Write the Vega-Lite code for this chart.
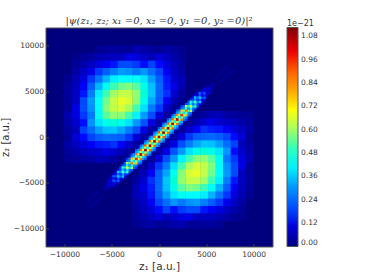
{"$schema":"https://vega.github.io/schema/vega-lite/v6.json","autosize":"none","padding":{"left":45.5,"top":27.5,"right":93.5,"bottom":27.5},"width":227,"height":219,"background":"white","view":{"fill":"#00007f","stroke":"#555555","strokeWidth":1},"title":{"text":"|ψ(z₁, z₂; x₁ =0, x₂ =0, y₁ =0, y₂ =0)|²","font":"DejaVu Serif","fontStyle":"italic","fontWeight":"normal","fontSize":10,"color":"#333333","anchor":"middle","dy":10},"datasets":{"lobes":[
{"x":-800,"y":800,"v":0.04},{"x":800,"y":-800,"v":0.04},
{"x":0,"y":1600,"v":0.038},{"x":-1600,"y":0,"v":0.038},{"x":1600,"y":0,"v":0.038},{"x":0,"y":-1600,"v":0.038},
{"x":800,"y":2400,"v":0.033},{"x":-2400,"y":-800,"v":0.033},{"x":2400,"y":800,"v":0.033},{"x":-800,"y":-2400,"v":0.033},
{"x":1600,"y":3200,"v":0.025},{"x":-3200,"y":-1600,"v":0.025},{"x":3200,"y":1600,"v":0.025},{"x":-1600,"y":-3200,"v":0.025},
{"x":2400,"y":4000,"v":0.018},{"x":-4000,"y":-2400,"v":0.018},{"x":4000,"y":2400,"v":0.018},{"x":-2400,"y":-4000,"v":0.018},
{"x":-800,"y":1600,"v":0.109},{"x":-1600,"y":800,"v":0.109},{"x":1600,"y":-800,"v":0.109},{"x":800,"y":-1600,"v":0.109},
{"x":0,"y":2400,"v":0.098},{"x":-2400,"y":0,"v":0.098},{"x":2400,"y":0,"v":0.098},{"x":0,"y":-2400,"v":0.098},
{"x":800,"y":3200,"v":0.08},{"x":-3200,"y":-800,"v":0.08},{"x":3200,"y":800,"v":0.08},{"x":-800,"y":-3200,"v":0.08},
{"x":1600,"y":4000,"v":0.059},{"x":-4000,"y":-1600,"v":0.059},{"x":4000,"y":1600,"v":0.059},{"x":-1600,"y":-4000,"v":0.059},
{"x":2400,"y":4800,"v":0.039},{"x":-4800,"y":-2400,"v":0.039},{"x":4800,"y":2400,"v":0.039},{"x":-2400,"y":-4800,"v":0.039},
{"x":-1600,"y":1600,"v":0.21},{"x":1600,"y":-1600,"v":0.21},
{"x":-800,"y":2400,"v":0.2},{"x":-2400,"y":800,"v":0.2},{"x":2400,"y":-800,"v":0.2},{"x":800,"y":-2400,"v":0.2},
{"x":0,"y":3200,"v":0.171},{"x":-3200,"y":0,"v":0.171},{"x":3200,"y":0,"v":0.171},{"x":0,"y":-3200,"v":0.171},
{"x":800,"y":4000,"v":0.132},{"x":-4000,"y":-800,"v":0.132},{"x":4000,"y":800,"v":0.132},{"x":-800,"y":-4000,"v":0.132},
{"x":1600,"y":4800,"v":0.092},{"x":-4800,"y":-1600,"v":0.092},{"x":4800,"y":1600,"v":0.092},{"x":-1600,"y":-4800,"v":0.092},
{"x":2400,"y":5600,"v":0.058},{"x":-5600,"y":-2400,"v":0.058},{"x":5600,"y":2400,"v":0.058},{"x":-2400,"y":-5600,"v":0.058},
{"x":-1600,"y":2400,"v":0.306},{"x":-2400,"y":1600,"v":0.306},{"x":2400,"y":-1600,"v":0.306},{"x":1600,"y":-2400,"v":0.306},
{"x":-800,"y":3200,"v":0.276},{"x":-3200,"y":800,"v":0.276},{"x":3200,"y":-800,"v":0.276},{"x":800,"y":-3200,"v":0.276},
{"x":0,"y":4000,"v":0.225},{"x":-4000,"y":0,"v":0.225},{"x":4000,"y":0,"v":0.225},{"x":0,"y":-4000,"v":0.225},
{"x":800,"y":4800,"v":0.166},{"x":-4800,"y":-800,"v":0.166},{"x":4800,"y":800,"v":0.166},{"x":-800,"y":-4800,"v":0.166},
{"x":1600,"y":5600,"v":0.11},{"x":-5600,"y":-1600,"v":0.11},{"x":5600,"y":1600,"v":0.11},{"x":-1600,"y":-5600,"v":0.11},
{"x":2400,"y":6400,"v":0.066},{"x":-6400,"y":-2400,"v":0.066},{"x":6400,"y":2400,"v":0.066},{"x":-2400,"y":-6400,"v":0.066},
{"x":-2400,"y":2400,"v":0.41},{"x":2400,"y":-2400,"v":0.41},
{"x":-1600,"y":3200,"v":0.385},{"x":-3200,"y":1600,"v":0.385},{"x":3200,"y":-1600,"v":0.385},{"x":1600,"y":-3200,"v":0.385},
{"x":-800,"y":4000,"v":0.319},{"x":-4000,"y":800,"v":0.319},{"x":4000,"y":-800,"v":0.319},{"x":800,"y":-4000,"v":0.319},
{"x":0,"y":4800,"v":0.234},{"x":-4800,"y":0,"v":0.234},{"x":4800,"y":0,"v":0.234},{"x":0,"y":-4800,"v":0.234},
{"x":800,"y":5600,"v":0.151},{"x":-5600,"y":-800,"v":0.151},{"x":5600,"y":800,"v":0.151},{"x":-800,"y":-5600,"v":0.151},
{"x":1600,"y":6400,"v":0.086},{"x":-6400,"y":-1600,"v":0.086},{"x":6400,"y":1600,"v":0.086},{"x":-1600,"y":-6400,"v":0.086},
{"x":2400,"y":7200,"v":0.043},{"x":-7200,"y":-2400,"v":0.043},{"x":7200,"y":2400,"v":0.043},{"x":-2400,"y":-7200,"v":0.043},
{"x":-2400,"y":3200,"v":0.512},{"x":-3200,"y":2400,"v":0.512},{"x":3200,"y":-2400,"v":0.512},{"x":2400,"y":-3200,"v":0.512},
{"x":-1600,"y":4000,"v":0.452},{"x":-4000,"y":1600,"v":0.452},{"x":4000,"y":-1600,"v":0.452},{"x":1600,"y":-4000,"v":0.452},
{"x":-800,"y":4800,"v":0.352},{"x":-4800,"y":800,"v":0.352},{"x":4800,"y":-800,"v":0.352},{"x":800,"y":-4800,"v":0.352},
{"x":0,"y":5600,"v":0.242},{"x":-5600,"y":0,"v":0.242},{"x":5600,"y":0,"v":0.242},{"x":0,"y":-5600,"v":0.242},
{"x":800,"y":6400,"v":0.147},{"x":-6400,"y":-800,"v":0.147},{"x":6400,"y":800,"v":0.147},{"x":-800,"y":-6400,"v":0.147},
{"x":1600,"y":7200,"v":0.079},{"x":-7200,"y":-1600,"v":0.079},{"x":7200,"y":1600,"v":0.079},{"x":-1600,"y":-7200,"v":0.079},
{"x":2400,"y":8000,"v":0.037},{"x":-8000,"y":-2400,"v":0.037},{"x":8000,"y":2400,"v":0.037},{"x":-2400,"y":-8000,"v":0.037},
{"x":-3200,"y":3200,"v":0.61},{"x":3200,"y":-3200,"v":0.61},
{"x":-2400,"y":4000,"v":0.573},{"x":-4000,"y":2400,"v":0.573},{"x":4000,"y":-2400,"v":0.573},{"x":2400,"y":-4000,"v":0.573},
{"x":-1600,"y":4800,"v":0.475},{"x":-4800,"y":1600,"v":0.475},{"x":4800,"y":-1600,"v":0.475},{"x":1600,"y":-4800,"v":0.475},
{"x":-800,"y":5600,"v":0.348},{"x":-5600,"y":800,"v":0.348},{"x":5600,"y":-800,"v":0.348},{"x":800,"y":-5600,"v":0.348},
{"x":0,"y":6400,"v":0.224},{"x":-6400,"y":0,"v":0.224},{"x":6400,"y":0,"v":0.224},{"x":0,"y":-6400,"v":0.224},
{"x":800,"y":7200,"v":0.128},{"x":-7200,"y":-800,"v":0.128},{"x":7200,"y":800,"v":0.128},{"x":-800,"y":-7200,"v":0.128},
{"x":1600,"y":8000,"v":0.064},{"x":-8000,"y":-1600,"v":0.064},{"x":8000,"y":1600,"v":0.064},{"x":-1600,"y":-8000,"v":0.064},
{"x":2400,"y":8800,"v":0.029},{"x":-8800,"y":-2400,"v":0.029},{"x":8800,"y":2400,"v":0.029},{"x":-2400,"y":-8800,"v":0.029},
{"x":-3200,"y":4000,"v":0.659},{"x":-4000,"y":3200,"v":0.659},{"x":4000,"y":-3200,"v":0.659},{"x":3200,"y":-4000,"v":0.659},
{"x":-2400,"y":4800,"v":0.582},{"x":-4800,"y":2400,"v":0.582},{"x":4800,"y":-2400,"v":0.582},{"x":2400,"y":-4800,"v":0.582},
{"x":-1600,"y":5600,"v":0.454},{"x":-5600,"y":1600,"v":0.454},{"x":5600,"y":-1600,"v":0.454},{"x":1600,"y":-5600,"v":0.454},
{"x":-800,"y":6400,"v":0.312},{"x":-6400,"y":800,"v":0.312},{"x":6400,"y":-800,"v":0.312},{"x":800,"y":-6400,"v":0.312},
{"x":0,"y":7200,"v":0.189},{"x":-7200,"y":0,"v":0.189},{"x":7200,"y":0,"v":0.189},{"x":0,"y":-7200,"v":0.189},
{"x":800,"y":8000,"v":0.101},{"x":-8000,"y":-800,"v":0.101},{"x":8000,"y":800,"v":0.101},{"x":-800,"y":-8000,"v":0.101},
{"x":1600,"y":8800,"v":0.048},{"x":-8800,"y":-1600,"v":0.048},{"x":8800,"y":1600,"v":0.048},{"x":-1600,"y":-8800,"v":0.048},
{"x":2400,"y":9600,"v":0.02},{"x":-9600,"y":-2400,"v":0.02},{"x":9600,"y":2400,"v":0.02},{"x":-2400,"y":-9600,"v":0.02},
{"x":-4000,"y":4000,"v":0.68},{"x":4000,"y":-4000,"v":0.68},
{"x":-3200,"y":4800,"v":0.639},{"x":-4800,"y":3200,"v":0.639},{"x":4800,"y":-3200,"v":0.639},{"x":3200,"y":-4800,"v":0.639},
{"x":-2400,"y":5600,"v":0.53},{"x":-5600,"y":2400,"v":0.53},{"x":5600,"y":-2400,"v":0.53},{"x":2400,"y":-5600,"v":0.53},
{"x":-1600,"y":6400,"v":0.388},{"x":-6400,"y":1600,"v":0.388},{"x":6400,"y":-1600,"v":0.388},{"x":1600,"y":-6400,"v":0.388},
{"x":-800,"y":7200,"v":0.25},{"x":-7200,"y":800,"v":0.25},{"x":7200,"y":-800,"v":0.25},{"x":800,"y":-7200,"v":0.25},
{"x":0,"y":8000,"v":0.143},{"x":-8000,"y":0,"v":0.143},{"x":8000,"y":0,"v":0.143},{"x":0,"y":-8000,"v":0.143},
{"x":800,"y":8800,"v":0.071},{"x":-8800,"y":-800,"v":0.071},{"x":8800,"y":800,"v":0.071},{"x":-800,"y":-8800,"v":0.071},
{"x":1600,"y":9600,"v":0.032},{"x":-9600,"y":-1600,"v":0.032},{"x":9600,"y":1600,"v":0.032},{"x":-1600,"y":-9600,"v":0.032},
{"x":-4000,"y":4800,"v":0.64},{"x":-4800,"y":4000,"v":0.64},{"x":4800,"y":-4000,"v":0.64},{"x":4000,"y":-4800,"v":0.64},
{"x":-3200,"y":5600,"v":0.565},{"x":-5600,"y":3200,"v":0.565},{"x":5600,"y":-3200,"v":0.565},{"x":3200,"y":-5600,"v":0.565},
{"x":-2400,"y":6400,"v":0.44},{"x":-6400,"y":2400,"v":0.44},{"x":6400,"y":-2400,"v":0.44},{"x":2400,"y":-6400,"v":0.44},
{"x":-1600,"y":7200,"v":0.302},{"x":-7200,"y":1600,"v":0.302},{"x":7200,"y":-1600,"v":0.302},{"x":1600,"y":-7200,"v":0.302},
{"x":-800,"y":8000,"v":0.183},{"x":-8000,"y":800,"v":0.183},{"x":8000,"y":-800,"v":0.183},{"x":800,"y":-8000,"v":0.183},
{"x":0,"y":8800,"v":0.098},{"x":-8800,"y":0,"v":0.098},{"x":8800,"y":0,"v":0.098},{"x":0,"y":-8800,"v":0.098},
{"x":800,"y":9600,"v":0.046},{"x":-9600,"y":-800,"v":0.046},{"x":9600,"y":800,"v":0.046},{"x":-800,"y":-9600,"v":0.046},
{"x":-4800,"y":4800,"v":0.6},{"x":4800,"y":-4800,"v":0.6},
{"x":-4000,"y":5600,"v":0.549},{"x":-5600,"y":4000,"v":0.549},{"x":5600,"y":-4000,"v":0.549},{"x":4000,"y":-5600,"v":0.549},
{"x":-3200,"y":6400,"v":0.42},{"x":-6400,"y":3200,"v":0.42},{"x":6400,"y":-3200,"v":0.42},{"x":3200,"y":-6400,"v":0.42},
{"x":-2400,"y":7200,"v":0.269},{"x":-7200,"y":2400,"v":0.269},{"x":7200,"y":-2400,"v":0.269},{"x":2400,"y":-7200,"v":0.269},
{"x":-1600,"y":8000,"v":0.144},{"x":-8000,"y":1600,"v":0.144},{"x":8000,"y":-1600,"v":0.144},{"x":1600,"y":-8000,"v":0.144},
{"x":-800,"y":8800,"v":0.065},{"x":-8800,"y":800,"v":0.065},{"x":8800,"y":-800,"v":0.065},{"x":800,"y":-8800,"v":0.065},
{"x":0,"y":9600,"v":0.024},{"x":-9600,"y":0,"v":0.024},{"x":9600,"y":0,"v":0.024},{"x":0,"y":-9600,"v":0.024},
{"x":-4800,"y":5600,"v":0.509},{"x":-5600,"y":4800,"v":0.509},{"x":5600,"y":-4800,"v":0.509},{"x":4800,"y":-5600,"v":0.509},
{"x":-4000,"y":6400,"v":0.425},{"x":-6400,"y":4000,"v":0.425},{"x":6400,"y":-4000,"v":0.425},{"x":4000,"y":-6400,"v":0.425},
{"x":-3200,"y":7200,"v":0.298},{"x":-7200,"y":3200,"v":0.298},{"x":7200,"y":-3200,"v":0.298},{"x":3200,"y":-7200,"v":0.298},
{"x":-2400,"y":8000,"v":0.175},{"x":-8000,"y":2400,"v":0.175},{"x":8000,"y":-2400,"v":0.175},{"x":2400,"y":-8000,"v":0.175},
{"x":-1600,"y":8800,"v":0.086},{"x":-8800,"y":1600,"v":0.086},{"x":8800,"y":-1600,"v":0.086},{"x":1600,"y":-8800,"v":0.086},
{"x":-800,"y":9600,"v":0.035},{"x":-9600,"y":800,"v":0.035},{"x":9600,"y":-800,"v":0.035},{"x":800,"y":-9600,"v":0.035},
{"x":-5600,"y":5600,"v":0.44},{"x":5600,"y":-5600,"v":0.44},
{"x":-4800,"y":6400,"v":0.403},{"x":-6400,"y":4800,"v":0.403},{"x":6400,"y":-4800,"v":0.403},{"x":4800,"y":-6400,"v":0.403},
{"x":-4000,"y":7200,"v":0.308},{"x":-7200,"y":4000,"v":0.308},{"x":7200,"y":-4000,"v":0.308},{"x":4000,"y":-7200,"v":0.308},
{"x":-3200,"y":8000,"v":0.198},{"x":-8000,"y":3200,"v":0.198},{"x":8000,"y":-3200,"v":0.198},{"x":3200,"y":-8000,"v":0.198},
{"x":-2400,"y":8800,"v":0.106},{"x":-8800,"y":2400,"v":0.106},{"x":8800,"y":-2400,"v":0.106},{"x":2400,"y":-8800,"v":0.106},
{"x":-1600,"y":9600,"v":0.048},{"x":-9600,"y":1600,"v":0.048},{"x":9600,"y":-1600,"v":0.048},{"x":1600,"y":-9600,"v":0.048},
{"x":-5600,"y":6400,"v":0.333},{"x":-6400,"y":5600,"v":0.333},{"x":6400,"y":-5600,"v":0.333},{"x":5600,"y":-6400,"v":0.333},
{"x":-4800,"y":7200,"v":0.278},{"x":-7200,"y":4800,"v":0.278},{"x":7200,"y":-4800,"v":0.278},{"x":4800,"y":-7200,"v":0.278},
{"x":-4000,"y":8000,"v":0.195},{"x":-8000,"y":4000,"v":0.195},{"x":8000,"y":-4000,"v":0.195},{"x":4000,"y":-8000,"v":0.195},
{"x":-3200,"y":8800,"v":0.114},{"x":-8800,"y":3200,"v":0.114},{"x":8800,"y":-3200,"v":0.114},{"x":3200,"y":-8800,"v":0.114},
{"x":-2400,"y":9600,"v":0.056},{"x":-9600,"y":2400,"v":0.056},{"x":9600,"y":-2400,"v":0.056},{"x":2400,"y":-9600,"v":0.056},
{"x":-6400,"y":6400,"v":0.26},{"x":6400,"y":-6400,"v":0.26},
{"x":-5600,"y":7200,"v":0.225},{"x":-7200,"y":5600,"v":0.225},{"x":7200,"y":-5600,"v":0.225},{"x":5600,"y":-7200,"v":0.225},
{"x":-4800,"y":8000,"v":0.147},{"x":-8000,"y":4800,"v":0.147},{"x":8000,"y":-4800,"v":0.147},{"x":4800,"y":-8000,"v":0.147},
{"x":-4000,"y":8800,"v":0.072},{"x":-8800,"y":4000,"v":0.072},{"x":8800,"y":-4000,"v":0.072},{"x":4000,"y":-8800,"v":0.072},
{"x":-3200,"y":9600,"v":0.027},{"x":-9600,"y":3200,"v":0.027},{"x":9600,"y":-3200,"v":0.027},{"x":3200,"y":-9600,"v":0.027},
{"x":-6400,"y":7200,"v":0.174},{"x":-7200,"y":6400,"v":0.174},{"x":7200,"y":-6400,"v":0.174},{"x":6400,"y":-7200,"v":0.174},
{"x":-5600,"y":8000,"v":0.131},{"x":-8000,"y":5600,"v":0.131},{"x":8000,"y":-5600,"v":0.131},{"x":5600,"y":-8000,"v":0.131},
{"x":-4800,"y":8800,"v":0.074},{"x":-8800,"y":4800,"v":0.074},{"x":8800,"y":-4800,"v":0.074},{"x":4800,"y":-8800,"v":0.074},
{"x":-4000,"y":9600,"v":0.032},{"x":-9600,"y":4000,"v":0.032},{"x":9600,"y":-4000,"v":0.032},{"x":4000,"y":-9600,"v":0.032},
{"x":-7200,"y":7200,"v":0.12},{"x":7200,"y":-7200,"v":0.12},
{"x":-6400,"y":8000,"v":0.104},{"x":-8000,"y":6400,"v":0.104},{"x":8000,"y":-6400,"v":0.104},{"x":6400,"y":-8000,"v":0.104},
{"x":-5600,"y":8800,"v":0.068},{"x":-8800,"y":5600,"v":0.068},{"x":8800,"y":-5600,"v":0.068},{"x":5600,"y":-8800,"v":0.068},
{"x":-4800,"y":9600,"v":0.033},{"x":-9600,"y":4800,"v":0.033},{"x":9600,"y":-4800,"v":0.033},{"x":4800,"y":-9600,"v":0.033},
{"x":-7200,"y":8000,"v":0.077},{"x":-8000,"y":7200,"v":0.077},{"x":8000,"y":-7200,"v":0.077},{"x":7200,"y":-8000,"v":0.077},
{"x":-6400,"y":8800,"v":0.058},{"x":-8800,"y":6400,"v":0.058},{"x":8800,"y":-6400,"v":0.058},{"x":6400,"y":-8800,"v":0.058},
{"x":-5600,"y":9600,"v":0.033},{"x":-9600,"y":5600,"v":0.033},{"x":9600,"y":-5600,"v":0.033},{"x":5600,"y":-9600,"v":0.033},
{"x":-8000,"y":8000,"v":0.05},{"x":8000,"y":-8000,"v":0.05},
{"x":-7200,"y":8800,"v":0.041},{"x":-8800,"y":7200,"v":0.041},{"x":8800,"y":-7200,"v":0.041},{"x":7200,"y":-8800,"v":0.041},
{"x":-6400,"y":9600,"v":0.022},{"x":-9600,"y":6400,"v":0.022},{"x":9600,"y":-6400,"v":0.022},{"x":6400,"y":-9600,"v":0.022},
{"x":-8000,"y":8800,"v":0.028},{"x":-8800,"y":8000,"v":0.028},{"x":8800,"y":-8000,"v":0.028},{"x":8000,"y":-8800,"v":0.028},
{"x":-8800,"y":8800,"v":0.016},{"x":8800,"y":-8800,"v":0.016}
],"band":[
{"x":240,"y":720,"v":0.39},{"x":720,"y":240,"v":0.39},{"x":-240,"y":-720,"v":0.39},{"x":-720,"y":-240,"v":0.39},
{"x":6000,"y":6480,"v":0.03},{"x":6480,"y":6000,"v":0.03},{"x":-6000,"y":-6480,"v":0.03},{"x":-6480,"y":-6000,"v":0.03},
{"x":6240,"y":6720,"v":0.03},{"x":6720,"y":6240,"v":0.03},{"x":-6240,"y":-6720,"v":0.03},{"x":-6720,"y":-6240,"v":0.03},
{"x":6480,"y":6960,"v":0.03},{"x":6960,"y":6480,"v":0.03},{"x":-6480,"y":-6960,"v":0.03},{"x":-6960,"y":-6480,"v":0.03},
{"x":6720,"y":7200,"v":0.03},{"x":7200,"y":6720,"v":0.03},{"x":-6720,"y":-7200,"v":0.03},{"x":-7200,"y":-6720,"v":0.03},
{"x":6960,"y":7440,"v":0.03},{"x":7440,"y":6960,"v":0.03},{"x":-6960,"y":-7440,"v":0.03},{"x":-7440,"y":-6960,"v":0.03},
{"x":7200,"y":7680,"v":0.03},{"x":7680,"y":7200,"v":0.03},{"x":-7200,"y":-7680,"v":0.03},{"x":-7680,"y":-7200,"v":0.03},
{"x":-480,"y":480,"v":0.216},{"x":480,"y":-480,"v":0.216},
{"x":-240,"y":720,"v":0.09},{"x":720,"y":-240,"v":0.09},{"x":240,"y":-720,"v":0.09},{"x":-720,"y":240,"v":0.09},
{"x":0,"y":960,"v":0.216},{"x":960,"y":0,"v":0.216},{"x":0,"y":-960,"v":0.216},{"x":-960,"y":0,"v":0.216},
{"x":240,"y":1200,"v":0.09},{"x":1200,"y":240,"v":0.09},{"x":-240,"y":-1200,"v":0.09},{"x":-1200,"y":-240,"v":0.09},
{"x":480,"y":1440,"v":0.216},{"x":1440,"y":480,"v":0.216},{"x":-480,"y":-1440,"v":0.216},{"x":-1440,"y":-480,"v":0.216},
{"x":720,"y":1680,"v":0.09},{"x":1680,"y":720,"v":0.09},{"x":-720,"y":-1680,"v":0.09},{"x":-1680,"y":-720,"v":0.09},
{"x":960,"y":1920,"v":0.216},{"x":1920,"y":960,"v":0.216},{"x":-960,"y":-1920,"v":0.216},{"x":-1920,"y":-960,"v":0.216},
{"x":1200,"y":2160,"v":0.09},{"x":2160,"y":1200,"v":0.09},{"x":-1200,"y":-2160,"v":0.09},{"x":-2160,"y":-1200,"v":0.09},
{"x":1440,"y":2400,"v":0.21},{"x":2400,"y":1440,"v":0.21},{"x":-1440,"y":-2400,"v":0.21},{"x":-2400,"y":-1440,"v":0.21},
{"x":1680,"y":2640,"v":0.085},{"x":2640,"y":1680,"v":0.085},{"x":-1680,"y":-2640,"v":0.085},{"x":-2640,"y":-1680,"v":0.085},
{"x":1920,"y":2880,"v":0.194},{"x":2880,"y":1920,"v":0.194},{"x":-1920,"y":-2880,"v":0.194},{"x":-2880,"y":-1920,"v":0.194},
{"x":2160,"y":3120,"v":0.076},{"x":3120,"y":2160,"v":0.076},{"x":-2160,"y":-3120,"v":0.076},{"x":-3120,"y":-2160,"v":0.076},
{"x":2400,"y":3360,"v":0.168},{"x":3360,"y":2400,"v":0.168},{"x":-2400,"y":-3360,"v":0.168},{"x":-3360,"y":-2400,"v":0.168},
{"x":-240,"y":480,"v":0.324},{"x":480,"y":-240,"v":0.324},{"x":240,"y":-480,"v":0.324},{"x":-480,"y":240,"v":0.324},
{"x":0,"y":720,"v":0.324},{"x":720,"y":0,"v":0.324},{"x":0,"y":-720,"v":0.324},{"x":-720,"y":0,"v":0.324},
{"x":240,"y":960,"v":0.324},{"x":960,"y":240,"v":0.324},{"x":-240,"y":-960,"v":0.324},{"x":-960,"y":-240,"v":0.324},
{"x":480,"y":1200,"v":0.324},{"x":1200,"y":480,"v":0.324},{"x":-480,"y":-1200,"v":0.324},{"x":-1200,"y":-480,"v":0.324},
{"x":720,"y":1440,"v":0.324},{"x":1440,"y":720,"v":0.324},{"x":-720,"y":-1440,"v":0.324},{"x":-1440,"y":-720,"v":0.324},
{"x":960,"y":1680,"v":0.324},{"x":1680,"y":960,"v":0.324},{"x":-960,"y":-1680,"v":0.324},{"x":-1680,"y":-960,"v":0.324},
{"x":1200,"y":1920,"v":0.32},{"x":1920,"y":1200,"v":0.32},{"x":-1200,"y":-1920,"v":0.32},{"x":-1920,"y":-1200,"v":0.32},
{"x":1440,"y":2160,"v":0.316},{"x":2160,"y":1440,"v":0.316},{"x":-1440,"y":-2160,"v":0.316},{"x":-2160,"y":-1440,"v":0.316},
{"x":1680,"y":2400,"v":0.31},{"x":2400,"y":1680,"v":0.31},{"x":-1680,"y":-2400,"v":0.31},{"x":-2400,"y":-1680,"v":0.31},
{"x":1920,"y":2640,"v":0.297},{"x":2640,"y":1920,"v":0.297},{"x":-1920,"y":-2640,"v":0.297},{"x":-2640,"y":-1920,"v":0.297},
{"x":2160,"y":2880,"v":0.282},{"x":2880,"y":2160,"v":0.282},{"x":-2160,"y":-2880,"v":0.282},{"x":-2880,"y":-2160,"v":0.282},
{"x":2400,"y":3120,"v":0.262},{"x":3120,"y":2400,"v":0.262},{"x":-2400,"y":-3120,"v":0.262},{"x":-3120,"y":-2400,"v":0.262},
{"x":2640,"y":3360,"v":0.24},{"x":3360,"y":2640,"v":0.24},{"x":-2640,"y":-3360,"v":0.24},{"x":-3360,"y":-2640,"v":0.24},
{"x":2880,"y":3600,"v":0.214},{"x":3600,"y":2880,"v":0.214},{"x":-2880,"y":-3600,"v":0.214},{"x":-3600,"y":-2880,"v":0.214},
{"x":3120,"y":3840,"v":0.189},{"x":3840,"y":3120,"v":0.189},{"x":-3120,"y":-3840,"v":0.189},{"x":-3840,"y":-3120,"v":0.189},
{"x":3360,"y":4080,"v":0.165},{"x":4080,"y":3360,"v":0.165},{"x":-3360,"y":-4080,"v":0.165},{"x":-4080,"y":-3360,"v":0.165},
{"x":3600,"y":4320,"v":0.14},{"x":4320,"y":3600,"v":0.14},{"x":-3600,"y":-4320,"v":0.14},{"x":-4320,"y":-3600,"v":0.14},
{"x":3840,"y":4560,"v":0.116},{"x":4560,"y":3840,"v":0.116},{"x":-3840,"y":-4560,"v":0.116},{"x":-4560,"y":-3840,"v":0.116},
{"x":4080,"y":4800,"v":0.093},{"x":4800,"y":4080,"v":0.093},{"x":-4080,"y":-4800,"v":0.093},{"x":-4800,"y":-4080,"v":0.093},
{"x":4320,"y":5040,"v":0.072},{"x":5040,"y":4320,"v":0.072},{"x":-4320,"y":-5040,"v":0.072},{"x":-5040,"y":-4320,"v":0.072},
{"x":-240,"y":240,"v":0.39},{"x":240,"y":-240,"v":0.39},
{"x":0,"y":480,"v":0.92},{"x":480,"y":0,"v":0.92},{"x":0,"y":-480,"v":0.92},{"x":-480,"y":0,"v":0.92},
{"x":480,"y":960,"v":0.92},{"x":960,"y":480,"v":0.92},{"x":-480,"y":-960,"v":0.92},{"x":-960,"y":-480,"v":0.92},
{"x":720,"y":1200,"v":0.39},{"x":1200,"y":720,"v":0.39},{"x":-720,"y":-1200,"v":0.39},{"x":-1200,"y":-720,"v":0.39},
{"x":960,"y":1440,"v":0.92},{"x":1440,"y":960,"v":0.92},{"x":-960,"y":-1440,"v":0.92},{"x":-1440,"y":-960,"v":0.92},
{"x":1200,"y":1680,"v":0.39},{"x":1680,"y":1200,"v":0.39},{"x":-1200,"y":-1680,"v":0.39},{"x":-1680,"y":-1200,"v":0.39},
{"x":1440,"y":1920,"v":0.9},{"x":1920,"y":1440,"v":0.9},{"x":-1440,"y":-1920,"v":0.9},{"x":-1920,"y":-1440,"v":0.9},
{"x":1680,"y":2160,"v":0.378},{"x":2160,"y":1680,"v":0.378},{"x":-1680,"y":-2160,"v":0.378},{"x":-2160,"y":-1680,"v":0.378},
{"x":1920,"y":2400,"v":0.86},{"x":2400,"y":1920,"v":0.86},{"x":-1920,"y":-2400,"v":0.86},{"x":-2400,"y":-1920,"v":0.86},
{"x":2160,"y":2640,"v":0.35},{"x":2640,"y":2160,"v":0.35},{"x":-2160,"y":-2640,"v":0.35},{"x":-2640,"y":-2160,"v":0.35},
{"x":2400,"y":2880,"v":0.774},{"x":2880,"y":2400,"v":0.774},{"x":-2400,"y":-2880,"v":0.774},{"x":-2880,"y":-2400,"v":0.774},
{"x":2640,"y":3120,"v":0.3},{"x":3120,"y":2640,"v":0.3},{"x":-2640,"y":-3120,"v":0.3},{"x":-3120,"y":-2640,"v":0.3},
{"x":2880,"y":3360,"v":0.643},{"x":3360,"y":2880,"v":0.643},{"x":-2880,"y":-3360,"v":0.643},{"x":-3360,"y":-2880,"v":0.643},
{"x":3120,"y":3600,"v":0.24},{"x":3600,"y":3120,"v":0.24},{"x":-3120,"y":-3600,"v":0.24},{"x":-3600,"y":-3120,"v":0.24},
{"x":3360,"y":3840,"v":0.5},{"x":3840,"y":3360,"v":0.5},{"x":-3360,"y":-3840,"v":0.5},{"x":-3840,"y":-3360,"v":0.5},
{"x":3600,"y":4080,"v":0.184},{"x":4080,"y":3600,"v":0.184},{"x":-3600,"y":-4080,"v":0.184},{"x":-4080,"y":-3600,"v":0.184},
{"x":3840,"y":4320,"v":0.363},{"x":4320,"y":3840,"v":0.363},{"x":-3840,"y":-4320,"v":0.363},{"x":-4320,"y":-3840,"v":0.363},
{"x":4080,"y":4560,"v":0.125},{"x":4560,"y":4080,"v":0.125},{"x":-4080,"y":-4560,"v":0.125},{"x":-4560,"y":-4080,"v":0.125},
{"x":4320,"y":4800,"v":0.234},{"x":4800,"y":4320,"v":0.234},{"x":-4320,"y":-4800,"v":0.234},{"x":-4800,"y":-4320,"v":0.234},
{"x":4560,"y":5040,"v":0.074},{"x":5040,"y":4560,"v":0.074},{"x":-4560,"y":-5040,"v":0.074},{"x":-5040,"y":-4560,"v":0.074},
{"x":4800,"y":5280,"v":0.133},{"x":5280,"y":4800,"v":0.133},{"x":-4800,"y":-5280,"v":0.133},{"x":-5280,"y":-4800,"v":0.133},
{"x":5040,"y":5520,"v":0.039},{"x":5520,"y":5040,"v":0.039},{"x":-5040,"y":-5520,"v":0.039},{"x":-5520,"y":-5040,"v":0.039},
{"x":0,"y":240,"v":0.676},{"x":240,"y":0,"v":0.676},{"x":0,"y":-240,"v":0.676},{"x":-240,"y":0,"v":0.676},
{"x":240,"y":480,"v":0.676},{"x":480,"y":240,"v":0.676},{"x":-240,"y":-480,"v":0.676},{"x":-480,"y":-240,"v":0.676},
{"x":480,"y":720,"v":0.676},{"x":720,"y":480,"v":0.676},{"x":-480,"y":-720,"v":0.676},{"x":-720,"y":-480,"v":0.676},
{"x":720,"y":960,"v":0.676},{"x":960,"y":720,"v":0.676},{"x":-720,"y":-960,"v":0.676},{"x":-960,"y":-720,"v":0.676},
{"x":960,"y":1200,"v":0.676},{"x":1200,"y":960,"v":0.676},{"x":-960,"y":-1200,"v":0.676},{"x":-1200,"y":-960,"v":0.676},
{"x":1200,"y":1440,"v":0.676},{"x":1440,"y":1200,"v":0.676},{"x":-1200,"y":-1440,"v":0.676},{"x":-1440,"y":-1200,"v":0.676},
{"x":1440,"y":1680,"v":0.67},{"x":1680,"y":1440,"v":0.67},{"x":-1440,"y":-1680,"v":0.67},{"x":-1680,"y":-1440,"v":0.67},
{"x":1680,"y":1920,"v":0.66},{"x":1920,"y":1680,"v":0.66},{"x":-1680,"y":-1920,"v":0.66},{"x":-1920,"y":-1680,"v":0.66},
{"x":1920,"y":2160,"v":0.645},{"x":2160,"y":1920,"v":0.645},{"x":-1920,"y":-2160,"v":0.645},{"x":-2160,"y":-1920,"v":0.645},
{"x":2160,"y":2400,"v":0.62},{"x":2400,"y":2160,"v":0.62},{"x":-2160,"y":-2400,"v":0.62},{"x":-2400,"y":-2160,"v":0.62},
{"x":2400,"y":2640,"v":0.588},{"x":2640,"y":2400,"v":0.588},{"x":-2400,"y":-2640,"v":0.588},{"x":-2640,"y":-2400,"v":0.588},
{"x":2640,"y":2880,"v":0.548},{"x":2880,"y":2640,"v":0.548},{"x":-2640,"y":-2880,"v":0.548},{"x":-2880,"y":-2640,"v":0.548},
{"x":2880,"y":3120,"v":0.5},{"x":3120,"y":2880,"v":0.5},{"x":-2880,"y":-3120,"v":0.5},{"x":-3120,"y":-2880,"v":0.5},
{"x":3120,"y":3360,"v":0.446},{"x":3360,"y":3120,"v":0.446},{"x":-3120,"y":-3360,"v":0.446},{"x":-3360,"y":-3120,"v":0.446},
{"x":3360,"y":3600,"v":0.394},{"x":3600,"y":3360,"v":0.394},{"x":-3360,"y":-3600,"v":0.394},{"x":-3600,"y":-3360,"v":0.394},
{"x":3600,"y":3840,"v":0.344},{"x":3840,"y":3600,"v":0.344},{"x":-3600,"y":-3840,"v":0.344},{"x":-3840,"y":-3600,"v":0.344},
{"x":3840,"y":4080,"v":0.292},{"x":4080,"y":3840,"v":0.292},{"x":-3840,"y":-4080,"v":0.292},{"x":-4080,"y":-3840,"v":0.292},
{"x":4080,"y":4320,"v":0.242},{"x":4320,"y":4080,"v":0.242},{"x":-4080,"y":-4320,"v":0.242},{"x":-4320,"y":-4080,"v":0.242},
{"x":4320,"y":4560,"v":0.194},{"x":4560,"y":4320,"v":0.194},{"x":-4320,"y":-4560,"v":0.194},{"x":-4560,"y":-4320,"v":0.194},
{"x":4560,"y":4800,"v":0.15},{"x":4800,"y":4560,"v":0.15},{"x":-4560,"y":-4800,"v":0.15},{"x":-4800,"y":-4560,"v":0.15},
{"x":4800,"y":5040,"v":0.113},{"x":5040,"y":4800,"v":0.113},{"x":-4800,"y":-5040,"v":0.113},{"x":-5040,"y":-4800,"v":0.113},
{"x":5040,"y":5280,"v":0.083},{"x":5280,"y":5040,"v":0.083},{"x":-5040,"y":-5280,"v":0.083},{"x":-5280,"y":-5040,"v":0.083},
{"x":5280,"y":5520,"v":0.058},{"x":5520,"y":5280,"v":0.058},{"x":-5280,"y":-5520,"v":0.058},{"x":-5520,"y":-5280,"v":0.058},
{"x":5520,"y":5760,"v":0.038},{"x":5760,"y":5520,"v":0.038},{"x":-5520,"y":-5760,"v":0.038},{"x":-5760,"y":-5520,"v":0.038},
{"x":0,"y":0,"v":1.08},{"x":240,"y":240,"v":0.45},{"x":-240,"y":-240,"v":0.45},{"x":480,"y":480,"v":1.08},{"x":-480,"y":-480,"v":1.08},
{"x":720,"y":720,"v":0.45},{"x":-720,"y":-720,"v":0.45},{"x":960,"y":960,"v":1.08},{"x":-960,"y":-960,"v":1.08},
{"x":1200,"y":1200,"v":0.45},{"x":-1200,"y":-1200,"v":0.45},{"x":1440,"y":1440,"v":1.08},{"x":-1440,"y":-1440,"v":1.08},
{"x":1680,"y":1680,"v":0.445},{"x":-1680,"y":-1680,"v":0.445},{"x":1920,"y":1920,"v":1.05},{"x":-1920,"y":-1920,"v":1.05},
{"x":2160,"y":2160,"v":0.424},{"x":-2160,"y":-2160,"v":0.424},{"x":2400,"y":2400,"v":0.97},{"x":-2400,"y":-2400,"v":0.97},
{"x":2640,"y":2640,"v":0.382},{"x":-2640,"y":-2640,"v":0.382},{"x":2880,"y":2880,"v":0.84},{"x":-2880,"y":-2880,"v":0.84},
{"x":3120,"y":3120,"v":0.318},{"x":-3120,"y":-3120,"v":0.318},{"x":3360,"y":3360,"v":0.67},{"x":-3360,"y":-3360,"v":0.67},
{"x":3600,"y":3600,"v":0.248},{"x":-3600,"y":-3600,"v":0.248},{"x":3840,"y":3840,"v":0.51},{"x":-3840,"y":-3840,"v":0.51},
{"x":4080,"y":4080,"v":0.179},{"x":-4080,"y":-4080,"v":0.179},{"x":4320,"y":4320,"v":0.346},{"x":-4320,"y":-4320,"v":0.346},
{"x":4560,"y":4560,"v":0.115},{"x":-4560,"y":-4560,"v":0.115},{"x":4800,"y":4800,"v":0.205},{"x":-4800,"y":-4800,"v":0.205},
{"x":5040,"y":5040,"v":0.066},{"x":-5040,"y":-5040,"v":0.066},{"x":5280,"y":5280,"v":0.108},{"x":-5280,"y":-5280,"v":0.108},
{"x":5520,"y":5520,"v":0.032},{"x":-5520,"y":-5520,"v":0.032},{"x":5760,"y":5760,"v":0.043},{"x":-5760,"y":-5760,"v":0.043}
]},"encoding":{"x":{"field":"x","type":"quantitative","scale":{"domain":[-12000,12000],"nice":false},"axis":{"title":"z₁ [a.u.]","values":[-10000,-5000,0,5000,10000],"format":"d","grid":false,"domain":false,"tickSize":-3,"tickColor":"#444444","labelFont":"DejaVu Sans","labelFontSize":7.5,"labelColor":"#333333","labelPadding":7,"titleFont":"DejaVu Sans","titleFontWeight":"normal","titleFontSize":10.5,"titleColor":"#333333","titleY":15}},"y":{"field":"y","type":"quantitative","scale":{"domain":[-12000,12000],"nice":false},"axis":{"title":"z₂ [a.u.]","values":[-10000,-5000,0,5000,10000],"format":"d","grid":false,"domain":false,"tickSize":-3,"tickColor":"#444444","labelFont":"DejaVu Sans","labelFontSize":7.5,"labelColor":"#333333","labelPadding":5,"titleFont":"DejaVu Sans","titleFontWeight":"normal","titleFontSize":10,"titleColor":"#333333","titleX":-35}},"color":{"field":"v","type":"quantitative","scale":{"domain":[0,1.125],"range":["#00007f","#0000ff","#007fff","#00ffff","#7fff7f","#ffff00","#ff7f00","#ff0000","#7f0000"]},"legend":{"title":"1e−21","orient":"none","legendX":241.5,"legendY":-8,"values":[0,0.12,0.24,0.36,0.48,0.6,0.72,0.84,0.96,1.08],"format":".2f","gradientLength":219,"gradientThickness":11,"gradientStrokeColor":"#555555","gradientStrokeWidth":1,"labelFont":"DejaVu Sans","labelFontSize":7.5,"labelColor":"#333333","labelOverlap":false,"labelOffset":3,"titleFont":"DejaVu Sans","titleFontWeight":"normal","titleFontSize":8,"titleColor":"#333333","titlePadding":0}}},"layer":[{"data":{"name":"lobes"},"mark":{"type":"rect","width":8,"height":8}},{"data":{"name":"band"},"mark":{"type":"rect","width":2.6,"height":2.6}}]}
